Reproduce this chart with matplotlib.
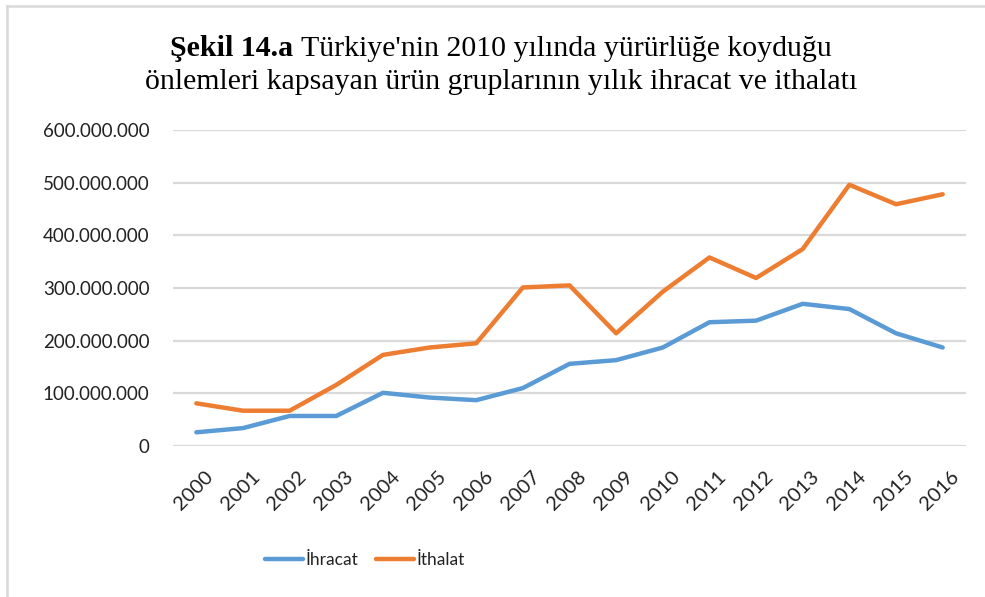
from matplotlib import pyplot as plt
from matplotlib.lines import Line2D
from matplotlib.ticker import FuncFormatter
from matplotlib.transforms import ScaledTranslation
import numpy as np

# Yillar ve seriler
years = [str(y) for y in range(2000, 2017)]
ihracat = [26e6, 34e6, 57e6, 57e6, 101e6, 92e6, 87e6, 110e6, 156e6, 163e6,
           187e6, 235e6, 238e6, 270e6, 260e6, 214e6, 187e6]
ithalat = [81e6, 67e6, 67e6, 116e6, 173e6, 187e6, 195e6, 301e6, 305e6, 214e6,
           293e6, 358e6, 319e6, 374e6, 496e6, 459e6, 478e6]
yticks = [0, 100e6, 200e6, 300e6, 400e6, 500e6, 600e6]

blue = '#5B9BD5'
orange = '#ED7D31'
grid = '#D9D9D9'
tickfont = 'Lato'

fig = plt.figure(figsize=(9.85, 5.97), dpi=100)
ax = fig.add_axes([173/985, 1-446/597, (966-173)/985, (446-130)/597])

x = np.arange(len(years))
ax.plot(x, ihracat, color=blue, lw=3.2, solid_capstyle='round', label='İhracat')
ax.plot(x, ithalat, color=orange, lw=3.2, solid_capstyle='round', label='İthalat')

ax.set_xlim(-0.5, len(years) - 0.5)
ax.set_ylim(0, 600e6)
ax.set_yticks(yticks)
ax.yaxis.set_major_formatter(FuncFormatter(lambda v, p: '{:,.0f}'.format(v).replace(',', '.')))
ax.set_xticks(x)
ax.set_xticklabels(years, rotation=45, ha='right', rotation_mode='anchor')
ax.grid(axis='y', color=grid, lw=1.6)
ax.set_axisbelow(True)
for s in ax.spines.values():
    s.set_visible(False)
ax.tick_params(length=0, labelsize=13.5)
ax.tick_params(axis='x', labelsize=14.5, pad=16)
ax.tick_params(axis='y', pad=17)
off = ScaledTranslation(8/100, 0, fig.dpi_scale_trans)
for lbl in ax.get_xticklabels():
    lbl.set_transform(lbl.get_transform() + off)
for lbl in ax.get_xticklabels() + ax.get_yticklabels():
    lbl.set_fontfamily(tickfont)
    lbl.set_color('#222222')

leg = fig.legend(loc='center', bbox_to_anchor=(365/985, 1-560/597), ncol=2, frameon=False,
                 prop={'family': tickfont, 'size': 12.5}, handlelength=2.2,
                 columnspacing=1.0, handletextpad=0.15)
for t in leg.get_texts():
    t.set_color('#222222')

# baslik: kalin kisim + normal kisim
fig.canvas.draw()
r = fig.canvas.get_renderer()
tsize = 21.5
bold_part = 'Şekil 14.a '
rest = "Türkiye'nin 2010 yılında yürürlüğe koyduğu"
tb = fig.text(0, 0, bold_part, fontfamily='Liberation Serif', fontweight='bold', fontsize=tsize)
tr = fig.text(0, 0, rest, fontfamily='Liberation Serif', fontsize=tsize)
wb = tb.get_window_extent(r).width
wr = tr.get_window_extent(r).width
cx = 501
x0 = cx - (wb + wr) / 2
tb.set_position((x0 / 985, 1 - 56/597))
tr.set_position(((x0 + wb) / 985, 1 - 56/597))
fig.text(cx/985, 1 - 89/597, 'önlemleri kapsayan ürün gruplarının yılık ihracat ve ithalatı',
         fontfamily='Liberation Serif', fontsize=tsize, ha='center')

# cerceve
fig.add_artist(Line2D([7/985, 1.0], [1-6/597, 1-6/597], transform=fig.transFigure, color=grid, lw=1.8))
fig.add_artist(Line2D([7/985, 7/985], [0, 1-6/597], transform=fig.transFigure, color=grid, lw=1.8))

fig.savefig('out.png', dpi=100)
